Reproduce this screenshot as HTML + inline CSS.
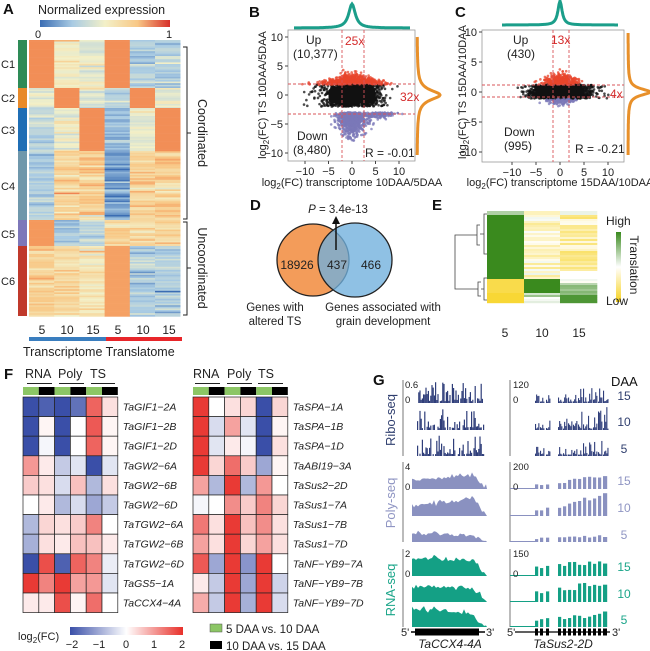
<!DOCTYPE html>
<html><head><meta charset="utf-8"><style>
body{margin:0;background:#fff;}
svg{display:block;font-family:"Liberation Sans",Arial,sans-serif;}
.t{font-size:11px;fill:#222}
.b{font-size:15px;font-weight:bold;fill:#111}
.i{font-style:italic;font-size:10.5px;fill:#222}
</style></head><body>
<svg id="s" width="650" height="651" viewBox="0 0 650 651" xmlns="http://www.w3.org/2000/svg">
<defs>
<linearGradient id="gA" x1="0" x2="1"><stop offset="0" stop-color="#3b6db3"/><stop offset="0.25" stop-color="#a9cbe3"/><stop offset="0.5" stop-color="#f3f0c8"/><stop offset="0.75" stop-color="#f8c886"/><stop offset="1" stop-color="#d7302a"/></linearGradient>
<linearGradient id="gF" x1="0" x2="1"><stop offset="0" stop-color="#3a4fa8"/><stop offset="0.5" stop-color="#ffffff"/><stop offset="1" stop-color="#e8302a"/></linearGradient>
<linearGradient id="gE" x1="0" x2="0" y1="0" y2="1"><stop offset="0" stop-color="#3a8a1e"/><stop offset="0.5" stop-color="#ffffff"/><stop offset="1" stop-color="#f7d21e"/></linearGradient>
</defs>
<g id="root"></g>
<text class="b" x="3" y="14">A</text>
<text x="38" y="14" style="font-size:12.5px" fill="#222">Normalized expression</text>
<rect x="40" y="20" width="130" height="7" fill="url(#gA)"/>
<text class="t" x="35" y="38">0</text><text class="t" x="166" y="38">1</text>
<text class="t" x="1" y="68">C1</text><text class="t" x="1" y="102">C2</text><text class="t" x="1" y="134">C3</text>
<text class="t" x="1" y="190">C4</text><text class="t" x="1" y="238">C5</text><text class="t" x="1" y="285">C6</text>
<path d="M183 47 h4 v172 h-4 M187 133 h4" stroke="#222" fill="none" stroke-width="1"/>
<path d="M183 222 h4 v93 h-4 M187 268 h4" stroke="#222" fill="none" stroke-width="1"/>
<text class="t" transform="translate(198,133) rotate(90)" text-anchor="middle" style="font-size:12.5px">Coordinated</text>
<text class="t" transform="translate(198,268) rotate(90)" text-anchor="middle" style="font-size:12.5px">Uncoordinated</text>
<g class="t" text-anchor="middle" style="font-size:12px"><text x="42" y="334">5</text><text x="67" y="334">10</text><text x="93" y="334">15</text><text x="118" y="334">5</text><text x="143" y="334">10</text><text x="169" y="334">15</text></g>
<rect x="29" y="337" width="77" height="4" fill="#3a7ebf"/><rect x="106" y="337" width="76" height="4" fill="#e8262a"/>
<text x="23" y="356" style="font-size:12.5px" fill="#222">Transcriptome Translatome</text>

<text class="b" x="249" y="17">B</text>
<text class="b" x="455" y="17">C</text>
<g id="sc"></g>

<text class="b" x="250" y="210">D</text>
<text class="t" x="338" y="213" text-anchor="middle" style="font-size:11.5px"><tspan font-style="italic">P</tspan> = 3.4e-13</text>
<circle cx="313" cy="260" r="36" fill="#f39c5a" stroke="#222" stroke-width="1.3"/>
<circle cx="355" cy="260" r="37" fill="#6fb0dd" fill-opacity="0.78" stroke="#222" stroke-width="1.3"/>
<line x1="336" y1="250" x2="336" y2="222" stroke="#111" stroke-width="1.5"/><path d="M332 224 L336 216 L340 224Z" fill="#111"/>
<text class="t" x="297" y="269" text-anchor="middle" style="font-size:12px">18926</text>
<text class="t" x="337" y="269" text-anchor="middle" style="font-size:12px">437</text>
<text class="t" x="371" y="269" text-anchor="middle" style="font-size:12px">466</text>
<text class="t" x="275" y="311" text-anchor="middle" style="font-size:11.5px">Genes with</text>
<text class="t" x="275" y="325" text-anchor="middle" style="font-size:11.5px">altered TS</text>
<text class="t" x="383" y="311" text-anchor="middle" style="font-size:11.5px">Genes associated with</text>
<text class="t" x="383" y="325" text-anchor="middle" style="font-size:11.5px">grain development</text>

<text class="b" x="432" y="210">E</text>
<g id="eh"></g>
<rect x="616" y="232" width="5" height="70" fill="url(#gE)"/>
<text class="t" x="606" y="225" style="font-size:12px">High</text>
<text class="t" x="606" y="305" style="font-size:12px">Low</text>
<text class="t" transform="translate(630,265) rotate(90)" text-anchor="middle" style="font-size:12px">Translation</text>
<g class="t" text-anchor="middle" style="font-size:12px"><text x="505" y="337">5</text><text x="542" y="337">10</text><text x="579" y="337">15</text></g>

<text class="b" x="4" y="379">F</text>
<g class="t" style="font-size:12.5px"><text x="25" y="378">RNA</text><text x="58" y="378">Poly</text><text x="90" y="378">TS</text>
<text x="193" y="378">RNA</text><text x="227" y="378">Poly</text><text x="258" y="378">TS</text></g>
<path d="M27 383.5h25 M59 383.5h25 M91 383.5h24 M195 383.5h25 M227 383.5h25 M258 383.5h25" stroke="#222"/>
<g id="fh"></g>
<text class="t" x="18" y="640">log<tspan font-size="8" dy="3">2</tspan><tspan dy="-3">(FC)</tspan></text>
<rect x="70" y="627" width="113" height="8" fill="url(#gF)"/>
<g class="t" text-anchor="middle"><text x="72" y="648">−2</text><text x="99" y="648">−1</text><text x="126" y="648">0</text><text x="154" y="648">1</text><text x="182" y="648">2</text></g>
<rect x="210" y="624" width="12" height="8" fill="#8cc665" stroke="#555" stroke-width="0.5"/><text class="t" x="226" y="633" style="font-size:11.5px">5 DAA vs. 10 DAA</text>
<rect x="210" y="641" width="12" height="8" fill="#000"/><text class="t" x="226" y="650" style="font-size:11.5px">10 DAA vs. 15 DAA</text>

<text class="b" x="373" y="385">G</text>
<g id="gt"></g>
<text x="611" y="386" style="font-size:13px" fill="#111">DAA</text>
<text transform="translate(395,420) rotate(-90)" text-anchor="middle" style="font-size:13px" fill="#2f3e6e">Ribo-seq</text>
<text transform="translate(395,503) rotate(-90)" text-anchor="middle" style="font-size:13px" fill="#8f95c3">Poly-seq</text>
<text transform="translate(395,590) rotate(-90)" text-anchor="middle" style="font-size:13px" fill="#1aa589">RNA-seq</text>
<g style="font-size:12px" text-anchor="middle">
<text x="624" y="400" fill="#2f3e6e">15</text><text x="624" y="426" fill="#2f3e6e">10</text><text x="624" y="453" fill="#2f3e6e">5</text>
<text x="624" y="485" fill="#8f95c3">15</text><text x="624" y="512" fill="#8f95c3">10</text><text x="624" y="539" fill="#8f95c3">5</text>
<text x="624" y="571" fill="#1aa589">15</text><text x="624" y="598" fill="#1aa589">10</text><text x="624" y="624" fill="#1aa589">5</text></g>
<g class="t" style="font-size:9.5px">
<text x="405" y="388">0.6</text><text x="405" y="403">0</text><text x="513" y="388">120</text><text x="513" y="403">0</text>
<text x="405" y="470">4</text><text x="405" y="490">0</text><text x="513" y="470">200</text><text x="513" y="490">0</text>
<text x="405" y="557">2</text><text x="405" y="577">0</text><text x="513" y="557">150</text><text x="513" y="577">0</text></g>
<g class="t" style="font-size:11px"><text x="401" y="636">5'</text><text x="486" y="636">3'</text><text x="507" y="636">5'</text><text x="612" y="636">3'</text></g>
<text class="i" x="450" y="648" text-anchor="middle" style="font-size:12px">TaCCX4-4A</text>
<text class="i" x="563" y="648" text-anchor="middle" style="font-size:12px">TaSus2-2D</text>
</svg>
<script>
var NS="http://www.w3.org/2000/svg";
function el(t,a,p){var e=document.createElementNS(NS,t);for(var k in a)e.setAttribute(k,a[k]);(p||document.getElementById('root')).appendChild(e);return e;}
var seed=7;function rnd(){seed=(seed*16807)%2147483647;return seed/2147483647;}
function gauss(){return Math.sqrt(-2*Math.log(rnd()+1e-9))*Math.cos(6.2832*rnd());}
function hex(h){return [parseInt(h.substr(1,2),16),parseInt(h.substr(3,2),16),parseInt(h.substr(5,2),16)];}
function interp(stops,v){v=Math.max(0,Math.min(1,v));for(var i=1;i<stops.length;i++){if(v<=stops[i][0]){var a=stops[i-1],b=stops[i],f=(v-a[0])/(b[0]-a[0]);var c1=hex(a[1]),c2=hex(b[1]);return 'rgb('+c1.map(function(c,j){return Math.round(c+(c2[j]-c)*f)}).join(',')+')';}}return stops[stops.length-1][1];}
var SA=[[0,'#3b6db3'],[0.25,'#a9cbe3'],[0.5,'#f3f0c8'],[0.72,'#f8c886'],[0.85,'#f4955a'],[1,'#d7302a']];
var cl=[[40,88,'#2e8b57',[0.86,0.5,0.45,0.86,0.3,0.3]],[88,108,'#e88a2a',[0.45,0.86,0.4,0.3,0.86,0.45]],[108,151,'#1f6eb5',[0.3,0.47,0.86,0.22,0.47,0.86]],[151,220,'#6f97ab',[0.3,0.66,0.68,0.14,0.66,0.68]],[220,246,'#7d77b9',[0.84,0.3,0.3,0.66,0.62,0.64]],[246,316,'#c0392b',[0.67,0.62,0.57,0.82,0.27,0.28]]];
var cx=[29,54.2,79.4,104.6,129.8,155,180.2];
cl.forEach(function(c){el('rect',{x:18,y:c[0],width:9,height:c[1]-c[0],fill:c[2]});
 for(var y=c[0];y<c[1];y+=1.6){for(var j=0;j<6;j++){var m=c[3][j];var v=m>0.8?m:m+gauss()*0.07;
 el('rect',{x:cx[j],y:y,width:cx[j+1]-cx[j]+0.3,height:1.9,fill:interp(SA,v)});}}});
var sc=document.getElementById('sc');
function panel(o){
 el('rect',{x:o.x0,y:o.y0,width:o.x1-o.x0,height:o.y1-o.y0,fill:'#fff',stroke:'#999','stroke-width':0.8},sc);
 var X=function(v){return o.xz+v*o.xs},Y=function(v){return o.yz-v*o.ys};
 for(var i=0;i<o.n;i++){var x,y,c;var r=rnd();
  if(r<o.pb){x=gauss()*3.2;y=(rnd()*2-1)*o.band[1];if(y<0)y=y*o.band[0]/o.band[1];c='#111';}
  else if(r<o.pb+o.pr){x=gauss()*o.rx;y=o.hr+Math.abs(gauss())*o.ry*(1-Math.min(0.8,Math.abs(x)/10));c='#e8452c';}
  else{var tl=rnd()<o.tail;x=gauss()*o.bx+(tl?3+rnd()*5:0);y=-o.hb-Math.abs(gauss())*o.by*(tl?0.5:1)*(1-Math.min(0.7,Math.abs(x)/12));c='#7b78b8';}
  if(x<-11||x>11||y<-8)continue;
  el('circle',{cx:X(x),cy:Y(y),r:1.3,fill:c,'fill-opacity':0.75},sc);}
 el('rect',{x:X(-5),y:Y(o.band[1]*0.7),width:X(5)-X(-5),height:Y(-o.band[0]*0.7)-Y(o.band[1]*0.7),fill:'#111',rx:4},sc);
 o.h.forEach(function(h){el('line',{x1:o.x0,x2:o.x1,y1:h,y2:h,stroke:'#d9545a','stroke-dasharray':'3,2','stroke-width':0.9},sc);});
 o.v.forEach(function(v){el('line',{x1:v,x2:v,y1:o.y0,y2:o.y1,stroke:'#d9545a','stroke-dasharray':'3,2','stroke-width':0.9},sc);});
 o.yt.forEach(function(t){el('line',{x1:o.x0-3,x2:o.x0,y1:Y(t),y2:Y(t),stroke:'#444'},sc);var e=el('text',{x:o.x0-5,y:Y(t)+4,'text-anchor':'end','class':'t'},sc);e.textContent=(t<0?'−':'')+Math.abs(t);});
 o.xt.forEach(function(t){el('line',{x1:X(t),x2:X(t),y1:o.y1,y2:o.y1+3,stroke:'#444'},sc);var e=el('text',{x:X(t),y:o.y1+14,'text-anchor':'middle','class':'t'},sc);e.textContent=(t<0?'−':'')+Math.abs(t);});
 var d='';for(var x=o.tx[0];x<=o.tx[1];x+=1){var u=(x-o.xz)/o.tw;d+=(d?'L':'M')+x+' '+(o.ty-o.th/(1+u*u)).toFixed(1);}
 el('path',{d:d,fill:'none',stroke:'#1b9e8a','stroke-width':3},sc);
 d='';for(var y=o.ry0;y<=o.ry1;y+=1){var u=(y-o.yz)/o.rw;d+=(d?'L':'M')+(o.rxb+o.rh/(1+u*u)).toFixed(1)+' '+y;}
 el('path',{d:d,fill:'none',stroke:'#e8902a','stroke-width':3},sc);
 o.txt.forEach(function(t){var e=el('text',{x:t[0],y:t[1],'class':'t',style:'font-size:12px'+(t[3]?';fill:#d42a2a':'')},sc);e.textContent=t[2];});
 var yl=el('text',{transform:'translate('+o.ylx+','+o.yz+') rotate(-90)','text-anchor':'middle','class':'t'},sc);
 yl.innerHTML='log<tspan font-size="8" dy="3">2</tspan><tspan dy="-3">(FC) TS '+o.yl+'</tspan>';
 var xl=el('text',{x:o.xlc,y:186,'text-anchor':'middle','class':'t'},sc);
 xl.innerHTML='log<tspan font-size="8" dy="3">2</tspan><tspan dy="-3">(FC) transcriptome '+o.xl+'</tspan>';
}
panel({x0:288,x1:415,y0:30,y1:161,xz:352,xs:4.7,yz:95,ys:5.8,n:2800,pb:0.42,pr:0.28,band:[2,1.8],rx:3,hr:1.8,ry:0.9,bx:1.4,hb:3,by:2.2,tail:0.22,
 h:[84,114],v:[342,364],yt:[10,5,0,-5,-10],xt:[-10,-5,0,5,10],tx:[294,410],ty:28,th:24,tw:4,ry0:37,ry1:155,rxb:417,rh:23,rw:6,
 txt:[[306,44,'Up'],[293,58,'(10,377)'],[345,45,'25x',1],[400,101,'32x',1],[297,140,'Down'],[293,154,'(8,480)'],[365,157,'R = -0.01']],
 ylx:266,yl:'10DAA/5DAA',xlc:352,xl:'10DAA/5DAA'});
panel({x0:482,x1:624,y0:30,y1:162,xz:560,xs:4.8,yz:92,ys:6,n:2000,pb:0.72,pr:0.2,band:[1.1,1.2],rx:1.8,hr:1.2,ry:0.9,bx:1.5,hb:1.1,by:0.5,tail:0,
 h:[85,97],v:[553,569],yt:[10,5,0,-5,-10],xt:[-10,-5,0,5,10],tx:[502,618],ty:25,th:24,tw:2.5,ry0:33,ry1:155,rxb:628,rh:22,rw:4,
 txt:[[513,44,'Up'],[507,58,'(430)'],[551,44,'13x',1],[610,98,'4x',1],[504,136,'Down'],[504,150,'(995)'],[575,153,'R = -0.21']],
 ylx:466,yl:'15DAA/10DAA',xlc:560,xl:'15DAA/10DAA'});
var eh=document.getElementById('eh');
var SE=[[0,'#f7d21e'],[0.5,'#ffffff'],[1,'#3a8a1e']];
var ex=[487,524,560,597];
for(var y=211;y<303;y+=2){var v;
 for(var j=0;j<3;j++){
  if(y<215)v=[0.7,0.35,0.55][j];
  else if(y<278)v=[1,0.25+rnd()*0.3,0.15+rnd()*0.35][j];
  else if(y<293)v=[0.1,1,0.45+rnd()*0.1][j];
  else v=[0.05,0.6+rnd()*0.25,0.95][j];
  if(y>=270&&y<278&&j==2)v=0.5;
  if(y>=283&&y<295&&j==2)v=0.65+rnd()*0.2;
  if(y>=296&&j==1)v=0.5+rnd()*0.2;
  el('rect',{x:ex[j],y:y,width:ex[j+1]-ex[j]+0.3,height:2.2,fill:interp(SE,v)},eh);}}
el('path',{d:'M487 214h-3v40h3 M484 234h-4 M480 225h-3v20h3 M477 235h-2 M487 278h-3v22h3 M484 289h-3 M481 282h-3v14h3 M478 289h-3 M475 235h-20v54h20',fill:'none',stroke:'#444','stroke-width':0.8},eh);
var fh=document.getElementById('fh');
var SF=[[0,'#3a4fa8'],[0.5,'#ffffff'],[1,'#e8302a']];
var L=[['TaGIF1−2A',[-2,-1.8,-2,-1.6,1.5,0.3]],['TaGIF1−2B',[-2,0.1,-2,0,1.6,0.1]],['TaGIF1−2D',[-2,-0.1,-2,0,1.5,0.1]],['TaGW2−6A',[1,0.2,-0.6,-0.3,-2,-0.3]],['TaGW2−6B',[0.5,0.3,-0.4,0.6,-0.8,0.3]],['TaGW2−6D',[0,0.2,-0.8,-0.4,-1,-0.6]],['TaTGW2−6A',[-0.8,0.4,0.3,0.5,1.2,0]],['TaTGW2−6B',[-0.9,0.3,0.2,0.6,0.6,0.2]],['TaTGW2−6D',[-2,1.7,-1.8,1.5,1.2,-0.2]],['TaGS5−1A',[1.9,1.2,1.9,0.9,1,-0.3]],['TaCCX4−4A',[0.2,0.2,1.7,0.1,1.4,0]]];
var R=[['TaSPA−1A',[1.9,0,0.3,0.4,-2,0.4]],['TaSPA−1B',[1.9,-0.4,0.9,-0.3,-2,0.1]],['TaSPA−1D',[1.9,-0.3,0.2,-0.1,-2,0.3]],['TaABI19−3A',[1.9,0.4,1.4,0.5,-1,0.1]],['TaSus2−2D',[0.9,-0.8,1.9,-0.8,1,0]],['TaSus1−7A',[-0.1,0,1.1,0.5,1.2,0.4]],['TaSus1−7B',[1.3,0.3,1.9,0.6,1.1,0.3]],['TaSus1−7D',[0.9,0.3,1.9,0.4,0.9,0.3]],['TaNF−YB9−7A',[1.6,-1,1.9,-1.2,1.9,0]],['TaNF−YB9−7B',[0.2,-0.6,1.9,-1,1.9,-0.5]],['TaNF−YB9−7D',[0.8,-0.6,1.9,-0.9,1.9,-0.4]]];
function fmap(x0,data){var w=15.8,h=19.6,y0=397;
 for(var j=0;j<6;j++)el('rect',{x:x0+j*w,y:387,width:w,height:8,fill:j%2?'#000':'#8cc665'},fh);
 data.forEach(function(r,i){for(var j=0;j<6;j++)el('rect',{x:x0+j*w,y:y0+i*h,width:w,height:h,fill:interp(SF,(r[1][j]+2)/4),stroke:'#222','stroke-width':0.7},fh);
  var t=el('text',{x:x0+6*w+5,y:y0+i*h+13.5,'class':'i'},fh);t.textContent=r[0];});}
fmap(23,L);fmap(193,R);
var gt=document.getElementById('gt');
var rows=[[380,403,'#2f3e7a','r'],[407,430,'#2f3e7a','r'],[433,456,'#2f3e7a','r'],[463,489,'#8a91c0','a'],[492,516,'#8a91c0','a'],[519,542,'#8a91c0','a'],[550,576,'#14a085','a'],[579,602,'#14a085','a'],[605,627,'#14a085','a']];
[[380,456],[462,542],[549,627]].forEach(function(g){el('line',{x1:403,x2:403,y1:g[0],y2:g[1],stroke:'#555','stroke-width':0.8},gt);el('line',{x1:510,x2:510,y1:g[0],y2:g[1],stroke:'#555','stroke-width':0.8},gt);});
var exons=[[535,539],[540,544],[546,550],[558,562],[563,567],[568,572],[573,577],[578,582],[583,587],[588,592],[593,597],[598,602],[603,608]];
rows.forEach(function(r,k){var t=r[0],b=r[1],H=b-t,c=r[2];
 if(r[3]=='r'){
  for(var x=417;x<483;x+=1.2){if(rnd()<0.8){var h=H*(0.08+Math.pow(rnd(),2.2)*0.85);el('rect',{x:x,y:b-h,width:1.2,height:h,fill:c},gt);}}
  exons.forEach(function(e){for(var x=e[0];x<e[1];x+=1.1){var h=H*(0.06+Math.pow(rnd(),2.5)*(k==1?0.95:0.7)*(x>580?1:0.5));el('rect',{x:x,y:b-h,width:1.1,height:h,fill:c},gt);}});
 }else{
  var d='M412 '+b;for(var x=412;x<=487;x+=2){var f=(x-412)/75;var base=(k<6)?(0.45+0.35*f)*(f>0.85?(1-f)*5:1):(0.7-0.1*f)*(f>0.85?(1-f)*5:1);if(k==5||k==8)base=(k==8?0.9-0.4*f:0.4-0.15*f)*(f>0.85?(1-f)*5:1);if(k==3)base*=0.75;var h=H*Math.max(0.05,Math.min(0.95,base+gauss()*0.06));d+='L'+x+' '+(b-h).toFixed(1);}
  d+='L487 '+b+'Z';el('path',{d:d,fill:c},gt);
  el('line',{x1:510,x2:535,y1:b-0.5,y2:b-0.5,stroke:c,'stroke-width':1},gt);
  exons.forEach(function(e,i){var s=(k==4?(0.2+0.06*i):k==3?(0.15+0.03*i):k==5?0.15+0.01*i:k==7?(0.4+0.04*i):0.35+0.02*i);var h=H*Math.min(0.95,s*(0.8+rnd()*0.4));el('rect',{x:e[0],y:b-h,width:e[1]-e[0]-0.8,height:h,fill:c},gt);});
 }});
el('line',{x1:411,x2:485,y1:632,y2:632,stroke:'#000','stroke-width':1.5},gt);
el('rect',{x:415,y:628.5,width:64,height:7,fill:'#000'},gt);
el('line',{x1:515,x2:610,y1:632,y2:632,stroke:'#000','stroke-width':1.2},gt);
exons.forEach(function(e){el('rect',{x:e[0],y:628.5,width:e[1]-e[0]-1,height:7,fill:'#000'},gt);});
</script>
</body></html>
